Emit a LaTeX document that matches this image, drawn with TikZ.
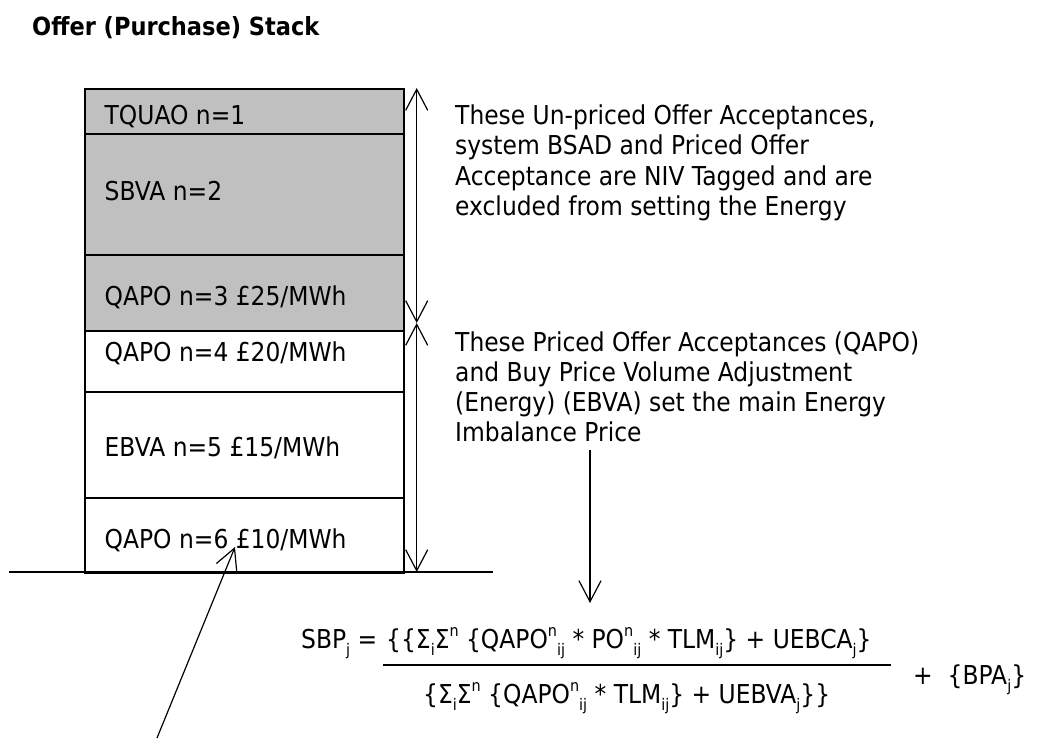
\documentclass[tikz,border=0pt]{standalone}
\usepackage{fontspec}
\setmainfont{DejaVu Sans}[FakeStretch=0.9]
\usetikzlibrary{arrows.meta}
\definecolor{stackgray}{RGB}{192,192,192}
\newcommand{\Sb}[1]{\raisebox{-0.28em}{\fontsize{16}{16}\selectfont #1}}
\newcommand{\Sp}[1]{\raisebox{0.45em}{\fontsize{16}{16}\selectfont #1}}
\begin{document}
\begin{tikzpicture}[x=1pt,y=-1pt,
  stackrow/.style={draw, line width=1.5pt, minimum width=319pt, anchor=north west, inner sep=0pt},
  shadedrow/.style={stackrow, fill=stackgray},
  lbl/.style={anchor=base west, inner sep=0pt, font=\fontsize{26}{30}\selectfont},
  ttl/.style={anchor=base west, inner sep=0pt, font=\fontsize{25}{30}\selectfont\bfseries},
  barbs/.style={line width=1.2pt, arrows={Straight Barb[length=21pt,width=22pt]-Straight Barb[length=21pt,width=22pt]}},
  barbend/.style={line width=1.2pt, arrows={-Straight Barb[length=21pt,width=22pt]}},
  plain/.style={line width=1.5pt}
]
\useasboundingbox (0,0) rectangle (1050,740);

% title
\node[ttl] (title) at (32,35) {Offer (Purchase) Stack};

% stack rows
\node[shadedrow, minimum height=45pt]  (r1) at (84,88)  {};
\node[shadedrow, minimum height=121pt] (r2) at (84,133) {};
\node[shadedrow, minimum height=76pt]  (r3) at (84,254) {};
\node[stackrow, minimum height=61pt]   (r4) at (84,330) {};
\node[stackrow, minimum height=106pt]  (r5) at (84,391) {};
\node[stackrow, minimum height=75pt]   (r6) at (84,497) {};

\node[lbl] (l1) at (104.5,124.3) {TQUAO n=1};
\node[lbl] (l2) at (104.5,200.7) {SBVA n=2};
\node[lbl] (l3) at (104.5,305.7) {QAPO n=3 £25/MWh};
\node[lbl] (l4) at (104.5,361.7) {QAPO n=4 £20/MWh};
\node[lbl] (l5) at (104.5,456.7) {EBVA n=5 £15/MWh};
\node[lbl] (l6) at (104.5,548)   {QAPO n=6 £10/MWh};

% ground line
\coordinate (gl) at (9,572);
\coordinate (gr) at (493,572);
\draw[plain] (gl) -- (gr);

% span arrows
\coordinate (a1) at (416.7,88);
\coordinate (a2) at (416.7,323);
\coordinate (a3) at (416.7,572);
\draw[barbs] (a1) -- (a2);
\draw[barbs] (a2) -- (a3);

% text block 1 (clipped at bottom)
\begin{scope}
\clip (440,90) rectangle (1050,220.5);
\node[lbl] (t1) at (455,124)   {These Un-priced Offer Acceptances,};
\node[lbl] (t2) at (455,154)   {system BSAD and Priced Offer};
\node[lbl] (t3) at (455,185)   {Acceptance are NIV Tagged and are};
\node[lbl] (t4) at (455,215.5) {excluded from setting the Energy};
\end{scope}

% text block 2
\node[lbl] (u1) at (455,351.5) {These Priced Offer Acceptances (QAPO)};
\node[lbl] (u2) at (455,381.5) {and Buy Price Volume Adjustment};
\node[lbl] (u3) at (455,411.5) {(Energy) (EBVA) set the main Energy};
\node[lbl] (u4) at (455,441.5) {Imbalance Price};

% down arrow to formula
\coordinate (d1) at (590,450);
\coordinate (d2) at (590,603);
\draw[barbend] (d1) -- (d2);

% formula
\node[lbl] (sbp) at (301,648) {SBP\Sb{j} =};
\node[lbl] (num) at (386,648) {\{\{Σ\Sb{i}Σ\Sp{n} \{QAPO\Sp{n}\Sb{ij} * PO\Sp{n}\Sb{ij} * TLM\Sb{ij}\} + UEBCA\Sb{j}\}};
\coordinate (f1) at (383,665);
\coordinate (f2) at (891,665);
\draw[plain] (f1) -- (f2);
\node[lbl] (bpa) at (913,684) {+\ \ \{BPA\Sb{j}\}};
\node[lbl] (den) at (423,703) {\{Σ\Sb{i}Σ\Sp{n} \{QAPO\Sp{n}\Sb{ij} * TLM\Sb{ij}\} + UEBVA\Sb{j}\}\}};

% pointer arrow
\coordinate (p1) at (157,738);
\coordinate (p2) at (235,547);
\draw[barbend] (p1) -- (p2);
\end{tikzpicture}
\end{document}
